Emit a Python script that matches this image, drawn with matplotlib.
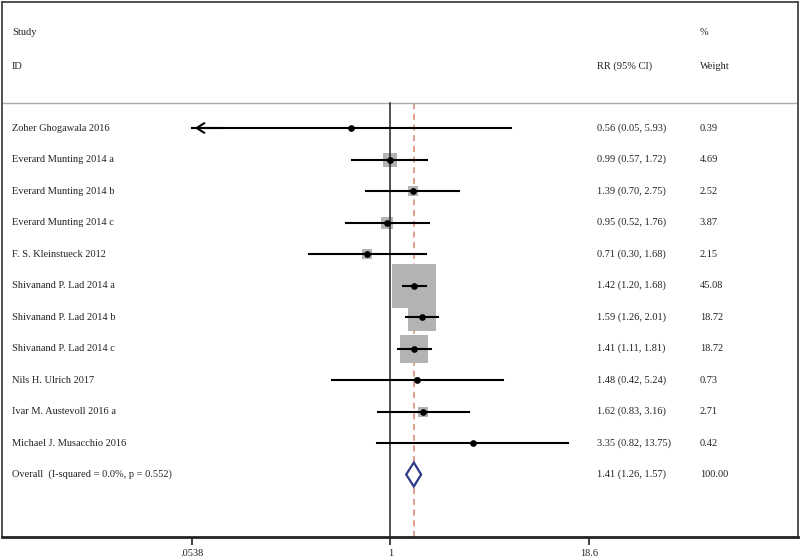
import numpy as np
import matplotlib
matplotlib.use('Agg')
from matplotlib import pyplot as plt
from matplotlib import transforms

#study data
studies = ['Zoher Ghogawala 2016', 'Everard Munting 2014 a', 'Everard Munting 2014 b',
           'Everard Munting 2014 c', 'F. S. Kleinstueck 2012', 'Shivanand P. Lad 2014 a',
           'Shivanand P. Lad 2014 b', 'Shivanand P. Lad 2014 c', 'Nils H. Ulrich 2017',
           'Ivar M. Austevoll 2016 a', 'Michael J. Musacchio 2016']
rr = [0.56, 0.99, 1.39, 0.95, 0.71, 1.42, 1.59, 1.41, 1.48, 1.62, 3.35]
lower = [0.05, 0.57, 0.70, 0.52, 0.30, 1.20, 1.26, 1.11, 0.42, 0.83, 0.82]
upper = [5.93, 1.72, 2.75, 1.76, 1.68, 1.68, 2.01, 1.81, 5.24, 3.16, 13.75]
weight = [0.39, 4.69, 2.52, 3.87, 2.15, 45.08, 18.72, 18.72, 0.73, 2.71, 0.42]

overallLabel = 'Overall  (I-squared = 0.0%, p = 0.552)'
overall = 1.41
overallLow = 1.26
overallHigh = 1.57
overallWeight = 100.00

tickVals = [0.0538, 1, 18.6]
tickLabels = ['.0538', '1', '18.6']

plt.rcParams['font.family'] = ['Liberation Serif', 'DejaVu Serif']
fs = 7.5
txtColor = '#222222'

fig = plt.figure(figsize=(8, 5.6), dpi=100)
ax = fig.add_axes([2/800, 1 - 537/560, 796/800, 535/560])
ax.set_xscale('log')
ax.set_xlim(0.00328, 403.5)
yTop = -4.0
yBot = 12.984
ax.set_ylim(yBot, yTop)

#frame
for side in ['left', 'right', 'top']:
    ax.spines[side].set_color('#444444')
    ax.spines[side].set_linewidth(1.3)
ax.spines['bottom'].set_color('#222222')
ax.spines['bottom'].set_linewidth(2)
ax.set_yticks([])
ax.minorticks_off()
ax.set_xticks(tickVals)
ax.set_xticklabels(tickLabels, fontsize=fs, color=txtColor)
ax.tick_params(axis='x', which='major', length=6, width=1.2, color='#222222', pad=3)
ax.tick_params(axis='x', which='minor', length=0)

headerLine = -0.794
ax.axhline(headerLine, color='#aaaaaa', linewidth=1)

xmin = tickVals[0]
rows = np.arange(len(studies))

#red dashed line at the overall estimate
ax.plot([overall, overall], [yBot, headerLine], color='#d98570', linestyle=(0, (4, 3)),
        linewidth=1.1, zorder=1)

#weight boxes
for i in rows:
    side = 6.48 * np.sqrt(weight[i]) * 0.72
    ax.plot(rr[i], i, marker='s', markersize=side, color='#b3b3b3', markeredgewidth=0,
            linestyle='none', zorder=2)

#line of no effect
ax.plot([1, 1], [yBot, headerLine], color='#222222', linewidth=1.1, zorder=3)

#confidence intervals
for i in rows:
    if lower[i] < xmin:
        ax.plot([xmin, upper[i]], [i, i], color='black', linewidth=1.5, zorder=4)
        ax.annotate('', xy=(xmin, i), xytext=(xmin * 1.6, i),
                    arrowprops=dict(arrowstyle='->,head_length=0.55,head_width=0.35',
                                    color='black', linewidth=1.5), zorder=4)
    else:
        ax.plot([lower[i], upper[i]], [i, i], color='black', linewidth=1.5, zorder=4)
    ax.plot(rr[i], i, marker='o', markersize=3.8, color='black', zorder=5)

#overall diamond
yo = len(studies)
h = 0.38
ax.fill([overallLow, overall, overallHigh, overall], [yo, yo - h, yo, yo + h],
        facecolor='white', edgecolor='#2d3a86', linewidth=1.6, zorder=5)

#text columns
trans = transforms.blended_transform_factory(ax.transAxes, ax.transData)
xName = 10 / 796
xRR = 595 / 796
xW = 698 / 796

ax.text(xName, -3.016, 'Study', transform=trans, fontsize=fs, color=txtColor, va='center')
ax.text(xName, -1.968, 'ID', transform=trans, fontsize=fs, color=txtColor, va='center')
ax.text(xRR, -1.968, 'RR (95% CI)', transform=trans, fontsize=fs, color=txtColor, va='center')
ax.text(xW, -3.016, '%', transform=trans, fontsize=fs, color=txtColor, va='center')
ax.text(xW, -1.968, 'Weight', transform=trans, fontsize=fs, color=txtColor, va='center')

for i in rows:
    ax.text(xName, i, studies[i], transform=trans, fontsize=fs, color=txtColor, va='center')
    ax.text(xRR, i, '%.2f (%.2f, %.2f)' % (rr[i], lower[i], upper[i]), transform=trans,
            fontsize=fs, color=txtColor, va='center')
    ax.text(xW, i, '%.2f' % weight[i], transform=trans, fontsize=fs, color=txtColor, va='center')

ax.text(xName, yo, overallLabel, transform=trans, fontsize=fs, color=txtColor, va='center')
ax.text(xRR, yo, '%.2f (%.2f, %.2f)' % (overall, overallLow, overallHigh), transform=trans,
        fontsize=fs, color=txtColor, va='center')
ax.text(xW, yo, '%.2f' % overallWeight, transform=trans, fontsize=fs, color=txtColor, va='center')

plt.savefig('out.png', dpi=100)
